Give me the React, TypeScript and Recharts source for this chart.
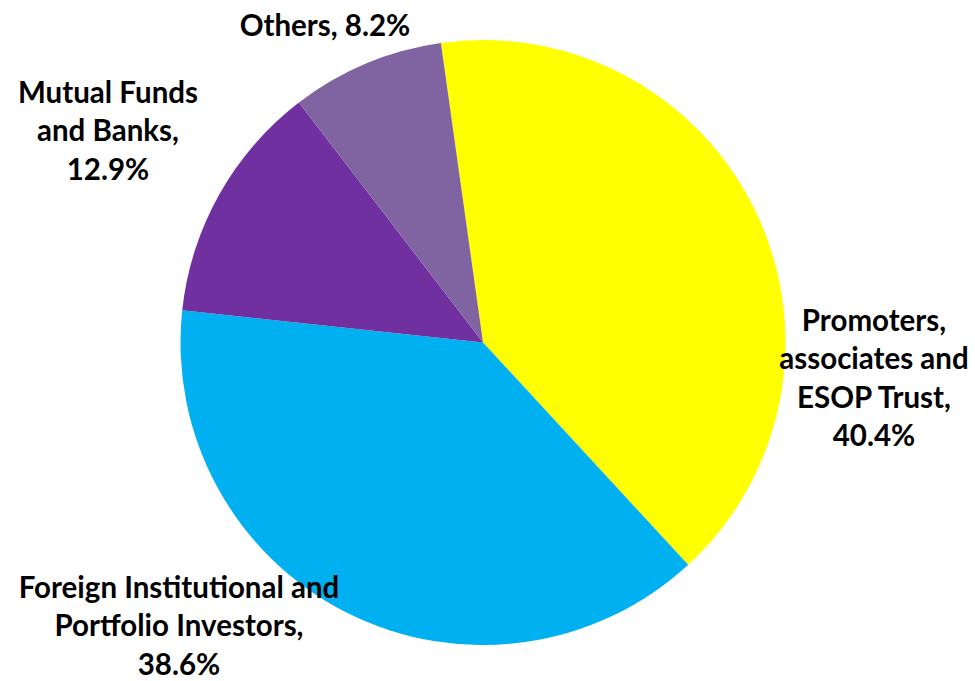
import { Cell, Pie, PieChart } from "recharts";

const categories = [
  "Promoters, associates and ESOP Trust",
  "Foreign Institutional and Portfolio Investors",
  "Mutual Funds and Banks",
  "Others",
];
const shares = [40.4, 38.6, 12.9, 8.2];
const colors = ["#FFFF00", "#00B0F0", "#7030A0", "#8064A2"];

// how the data labels wrap, as in the original chart
const labelLines = [
  ["Promoters,", "associates and", "ESOP Trust,"],
  ["Foreign Institutional and", "Portfolio Investors,"],
  ["Mutual Funds", "and Banks,"],
  ["Others,"],
];
const valueOnNewLine = [true, true, true, false];

// label block placement relative to the pie centre (centre x, first baseline)
const labelOffsets = [
  { dx: 391, dy: -12 },
  { dx: -304, dy: 255 },
  { dx: -375, dy: -240 },
  { dx: -158, dy: -307 },
];

const data = categories.map((name, i) => ({ name, value: shares[i], index: i }));

const LINE_HEIGHT = 38.5;

function renderLabel(props: any) {
  const { cx, cy, index } = props;
  const value = `${shares[index].toFixed(1)}%`;
  const lines = [...labelLines[index]];
  if (valueOnNewLine[index]) lines.push(value);
  else lines[lines.length - 1] = `${lines[lines.length - 1]} ${value}`;
  const off = labelOffsets[index];
  const x = cx + off.dx;
  const y = cy + off.dy;
  return (
    <text
      x={x}
      y={y}
      textAnchor="middle"
      fill="#000"
      style={{ fontFamily: "Lato, 'Open Sans', sans-serif", fontWeight: 700, fontSize: 29.5 }}
    >
      {lines.map((line, i) => (
        <tspan key={i} x={x} y={y + i * LINE_HEIGHT}>
          {line}
        </tspan>
      ))}
    </text>
  );
}

export default function App() {
  return (
    <div style={{ position: "absolute", left: 0, top: 0, width: 975, height: 681, background: "#fff" }}>
      <PieChart width={975} height={681} margin={{ top: 0, right: 0, bottom: 0, left: 0 }}>
        <Pie
          data={data}
          dataKey="value"
          nameKey="name"
          cx={483}
          cy={342.5}
          outerRadius={302.5}
          startAngle={98}
          endAngle={-262}
          stroke="none"
          label={renderLabel}
          labelLine={false}
          isAnimationActive={false}
        >
          {data.map((entry, i) => (
            <Cell key={entry.name} fill={colors[i]} />
          ))}
        </Pie>
      </PieChart>
    </div>
  );
}
